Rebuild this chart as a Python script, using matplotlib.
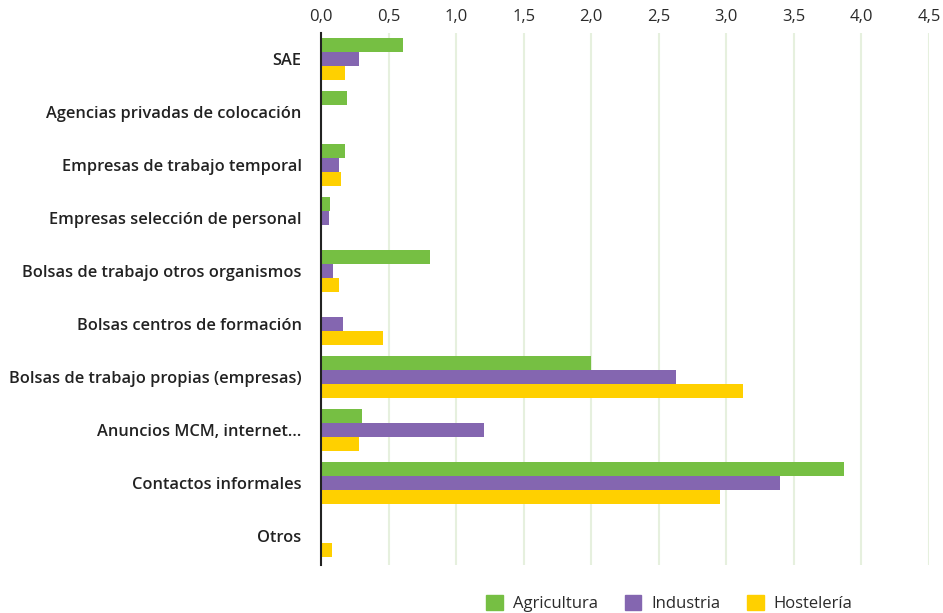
import matplotlib
matplotlib.use('Agg')
import matplotlib.pyplot as plt
import numpy as np
from matplotlib.patches import Patch

categories = ['SAE', 'Agencias privadas de colocación', 'Empresas de trabajo temporal',
              'Empresas selección de personal', 'Bolsas de trabajo otros organismos',
              'Bolsas centros de formación', 'Bolsas de trabajo propias (empresas)',
              'Anuncios MCM, internet...', 'Contactos informales', 'Otros']
agricultura = [0.61, 0.19, 0.18, 0.07, 0.81, 0.0, 2.0, 0.30, 3.87, 0.0]
industria = [0.28, 0.0, 0.13, 0.06, 0.09, 0.16, 2.63, 1.21, 3.40, 0.0]
hosteleria = [0.18, 0.0, 0.15, 0.0, 0.13, 0.46, 3.12, 0.28, 2.95, 0.08]
series_names = ['Agricultura', 'Industria', 'Hostelería']
colors = ['#76bf43', '#8466b0', '#ffd000']

plt.rcParams['font.family'] = ['Open Sans', 'DejaVu Sans']

fig = plt.figure(figsize=(9.43, 6.13), dpi=100)
ax = fig.add_axes([0.3404, 0.0783, 0.6448, 0.8677])

y = np.arange(len(categories))
h = 0.264
for i, (vals, c) in enumerate(zip([agricultura, industria, hosteleria], colors)):
  ax.barh(y + (i - 1) * h, vals, height=h, color=c, zorder=3)

ax.set_xlim(0, 4.5)
ax.set_ylim(9.55, -0.49)
ticks = np.arange(0, 4.51, 0.5)
ax.set_xticks(ticks)
ax.set_xticklabels(['{:.1f}'.format(t).replace('.', ',') for t in ticks])
ax.xaxis.tick_top()
ax.tick_params(axis='x', length=0, pad=6, labelsize=12, colors='#2a2a2a')
ax.set_yticks(y)
ax.set_yticklabels(categories, fontweight='semibold')
ax.tick_params(axis='y', length=0, pad=14, labelsize=11.8, colors='#222222')
ax.grid(axis='x', color='#e6f0de', linewidth=1.5, zorder=0)
for s in ['top', 'right', 'bottom']:
  ax.spines[s].set_visible(False)
ax.spines['left'].set_color('#222222')
ax.spines['left'].set_linewidth(1.5)
ax.spines['left'].set_zorder(4)

handles = [Patch(color=c, label=n) for c, n in zip(colors, series_names)]
fig.legend(handles=handles, loc='center', bbox_to_anchor=(0.71, 0.016), ncol=3,
           frameon=False, fontsize=12, handlelength=1.0, handleheight=1.0,
           columnspacing=1.6, handletextpad=0.6, labelcolor='#2a2a2a')

fig.savefig('out.png', dpi=100)
